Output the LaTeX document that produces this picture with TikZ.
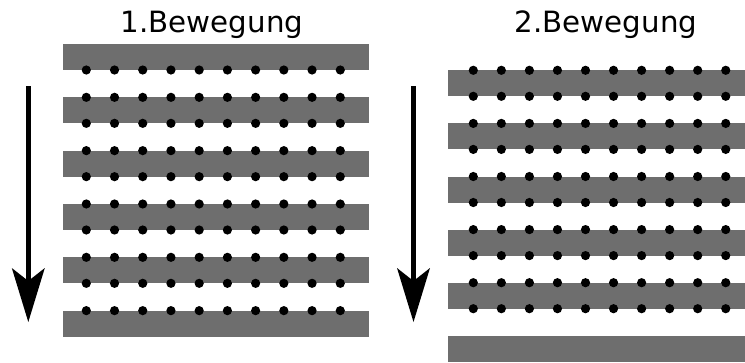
\documentclass[tikz,border=0pt]{standalone}
\usepackage{fontspec}
\setmainfont{DejaVu Sans}
\definecolor{bargray}{RGB}{110,110,110}
\begin{document}
\begin{tikzpicture}[x=1pt,y=-1pt,
  bar/.style={fill=bargray},
  dot/.style={fill=black},
  title/.style={anchor=base,inner sep=0pt,font=\fontsize{29.3}{34}\selectfont},
  shaft/.style={line width=5.5pt},
  head/.style={fill=black}]
\useasboundingbox (0,0) rectangle (745,362);

% titles
\node[title] (t1) at (212,32) {1.Bewegung};
\node[title] (t2) at (606,32) {2.Bewegung};

% first movement: six bars, dots on the inner edges
\foreach \i in {0,...,5} {
  \pgfmathsetmacro\ytop{44+53.33*\i}
  \fill[bar] (63,\ytop) rectangle (369,\ytop+26);
}
\foreach \i in {0,...,5} {
  \pgfmathsetmacro\ytop{44+53.33*\i}
  \foreach \j in {0,...,9} {
    \pgfmathsetmacro\xx{86.3+28.22*\j}
    \ifnum\i>0 \fill[dot] (\xx,\ytop) circle (4.6pt); \fi
    \ifnum\i<5 \fill[dot] (\xx,\ytop+26) circle (4.6pt); \fi
  }
}

% second movement: bars shifted by half a pitch
\foreach \i in {0,...,5} {
  \pgfmathsetmacro\ytop{70.3+53.1*\i}
  \fill[bar] (447.5,\ytop) rectangle (745,\ytop+26);
}
\foreach \i in {0,...,4} {
  \pgfmathsetmacro\ytop{70.3+53.1*\i}
  \foreach \j in {0,...,9} {
    \pgfmathsetmacro\xx{473.3+28.05*\j}
    \fill[dot] (\xx,\ytop) circle (4.6pt);
    \fill[dot] (\xx,\ytop+26) circle (4.6pt);
  }
}

% downward arrows
\foreach \ax/\nm in {28.3/a1,413.5/a2} {
  \coordinate (\nm s) at (\ax,86);
  \coordinate (\nm n) at (\ax,281);
  \draw[shaft] (\nm s) -- (\nm n);
  \fill[head] (\ax,322) -- (\ax-16.5,268) -- (\nm n) -- (\ax+16.5,268) -- cycle;
}
\end{tikzpicture}
\end{document}
